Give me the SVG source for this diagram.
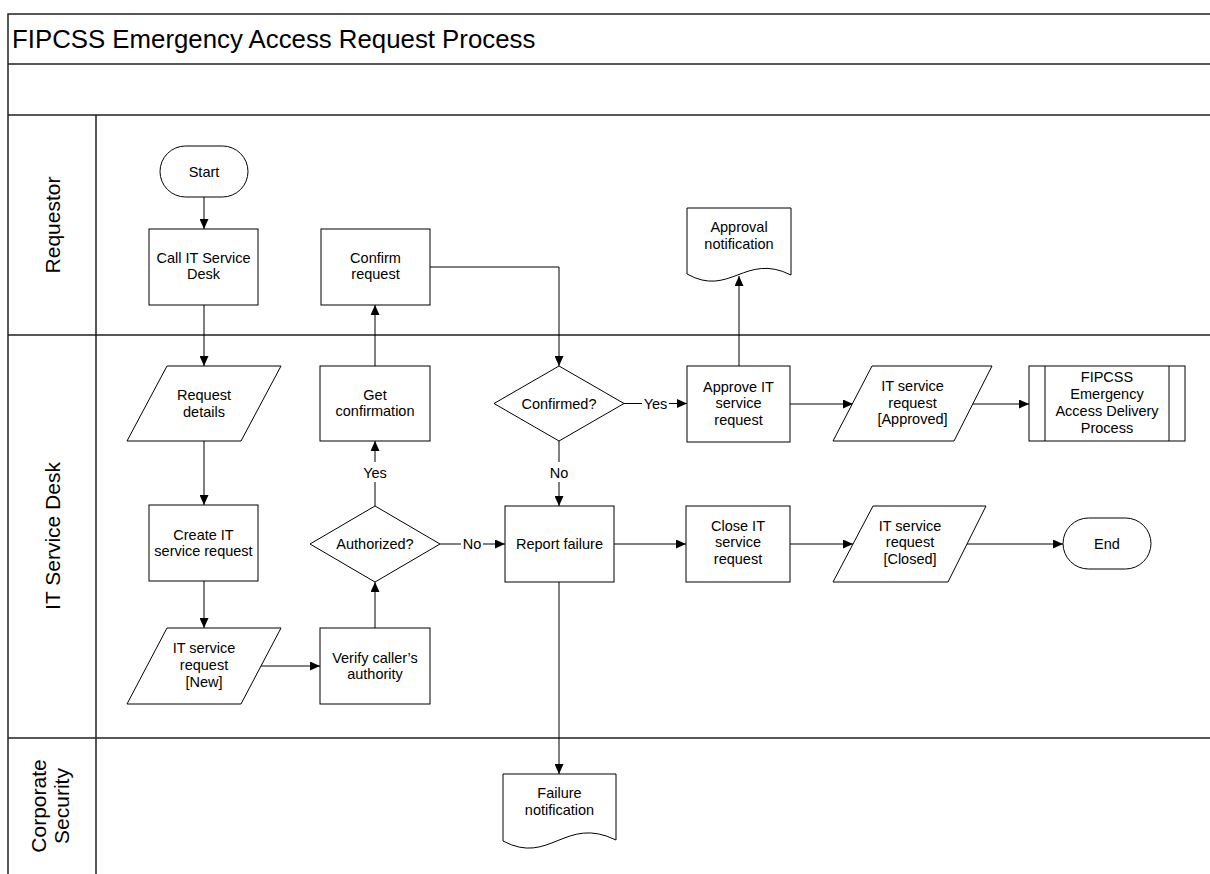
<svg xmlns="http://www.w3.org/2000/svg" width="1210" height="874" viewBox="0 0 1210 874">
  <style>
    .lane { fill: none; stroke: #222; stroke-width: 1.5; }
    .shape { fill: #fff; stroke: #000; stroke-width: 1; }
    .conn { fill: none; stroke: #000; stroke-width: 1; }
    .t { font-family: "Liberation Sans", Arial, sans-serif; font-size: 14.5px; fill: #000; text-anchor: middle; }
    .lab { font-family: "Liberation Sans", Arial, sans-serif; font-size: 21px; fill: #000; text-anchor: middle; }
    .title { font-family: "Liberation Sans", Arial, sans-serif; font-size: 25.8px; fill: #000; }
    .bg { fill: #fff; stroke: none; }
  </style>
  <defs>
    <marker id="arrow" viewBox="0 0 10 9" markerWidth="10" markerHeight="9" refX="10" refY="4.5" orient="auto" markerUnits="userSpaceOnUse">
      <path d="M0,0 L10,4.5 L0,9 z" fill="#000"/>
    </marker>
  </defs>

  <rect width="1210" height="874" fill="#fff"/>

  <!-- swimlane frame -->
  <g id="frame">
    <path class="lane" d="M8,874 V14 H1210 M8,64 H1210 M8,115 H1210 M8,335 H1210 M8,738 H1210 M96,115 V874"/>
    <text class="title" x="12" y="48">FIPCSS Emergency Access Request Process</text>
    <text class="lab" transform="translate(60,225) rotate(-90)">Requestor</text>
    <text class="lab" transform="translate(60,536) rotate(-90)">IT Service Desk</text>
    <text class="lab" transform="translate(46,806) rotate(-90)">Corporate</text>
    <text class="lab" transform="translate(69,806) rotate(-90)">Security</text>
  </g>

  <!-- connectors -->
  <g id="connectors">
    <path class="conn" d="M204,197 V229" marker-end="url(#arrow)"/>
    <path class="conn" d="M204,305 V366" marker-end="url(#arrow)"/>
    <path class="conn" d="M204,441 V505" marker-end="url(#arrow)"/>
    <path class="conn" d="M204,581 V628" marker-end="url(#arrow)"/>
    <path class="conn" d="M261,666 H320" marker-end="url(#arrow)"/>
    <path class="conn" d="M375,628 V582" marker-end="url(#arrow)"/>
    <path class="conn" d="M375,506 V441" marker-end="url(#arrow)"/>
    <path class="conn" d="M375,366 V305" marker-end="url(#arrow)"/>
    <path class="conn" d="M430,267 H559 V366" marker-end="url(#arrow)"/>
    <path class="conn" d="M624,403.5 H687" marker-end="url(#arrow)"/>
    <path class="conn" d="M559,441 V506" marker-end="url(#arrow)"/>
    <path class="conn" d="M440,544 H505" marker-end="url(#arrow)"/>
    <path class="conn" d="M739,366 V276" marker-end="url(#arrow)"/>
    <path class="conn" d="M790,404 H853" marker-end="url(#arrow)"/>
    <path class="conn" d="M973,404 H1029" marker-end="url(#arrow)"/>
    <path class="conn" d="M614,544 H686" marker-end="url(#arrow)"/>
    <path class="conn" d="M790,544 H853" marker-end="url(#arrow)"/>
    <path class="conn" d="M967,544 H1063" marker-end="url(#arrow)"/>
    <path class="conn" d="M559,582 V774" marker-end="url(#arrow)"/>

    <!-- branch labels -->
    <rect class="bg" x="362" y="462" width="26" height="20"/>
    <text class="t" x="375" y="478">Yes</text>
    <rect class="bg" x="642" y="394" width="27" height="19"/>
    <text class="t" x="655.5" y="408.5">Yes</text>
    <rect class="bg" x="546" y="462" width="26" height="20"/>
    <text class="t" x="559" y="478">No</text>
    <rect class="bg" x="461" y="535" width="22" height="19"/>
    <text class="t" x="472" y="549">No</text>
  </g>

  <!-- Requestor lane -->
  <g id="start">
    <rect class="shape" x="160" y="146" width="88" height="51" rx="25.5"/>
    <text class="t" x="204" y="176.5">Start</text>
  </g>
  <g id="call-service-desk">
    <rect class="shape" x="149" y="229" width="109" height="76"/>
    <text class="t" x="203.5" y="262.5">Call IT Service</text>
    <text class="t" x="203.5" y="279">Desk</text>
  </g>
  <g id="confirm-request">
    <rect class="shape" x="321" y="229" width="109" height="76"/>
    <text class="t" x="375.5" y="262.5">Confirm</text>
    <text class="t" x="375.5" y="279">request</text>
  </g>
  <g id="approval-notification">
    <path class="shape" d="M687,208 H791 V275 C745,252 730,298 687,274 Z"/>
    <text class="t" x="739" y="232">Approval</text>
    <text class="t" x="739" y="249">notification</text>
  </g>

  <!-- IT Service Desk lane -->
  <g id="request-details">
    <polygon class="shape" points="167,366 281,366 241,441 127,441"/>
    <text class="t" x="204" y="400">Request</text>
    <text class="t" x="204" y="416.5">details</text>
  </g>
  <g id="create-request">
    <rect class="shape" x="149" y="505" width="109" height="76"/>
    <text class="t" x="203.5" y="539.5">Create IT</text>
    <text class="t" x="203.5" y="556">service request</text>
  </g>
  <g id="request-new">
    <polygon class="shape" points="167,628 281,628 241,704 127,704"/>
    <text class="t" x="204" y="653">IT service</text>
    <text class="t" x="204" y="670">request</text>
    <text class="t" x="204" y="686.5">[New]</text>
  </g>
  <g id="verify-authority">
    <rect class="shape" x="320" y="628" width="110" height="76"/>
    <text class="t" x="375" y="662.5">Verify caller’s</text>
    <text class="t" x="375" y="679">authority</text>
  </g>
  <g id="authorized">
    <polygon class="shape" points="310,544 375,506 440,544 375,582"/>
    <text class="t" x="375" y="549">Authorized?</text>
  </g>
  <g id="get-confirmation">
    <rect class="shape" x="320" y="366" width="110" height="75"/>
    <text class="t" x="375" y="399.5">Get</text>
    <text class="t" x="375" y="416">confirmation</text>
  </g>
  <g id="confirmed">
    <polygon class="shape" points="494,403.5 559,366 624,403.5 559,441"/>
    <text class="t" x="559" y="408.5">Confirmed?</text>
  </g>
  <g id="approve-request">
    <rect class="shape" x="687" y="366" width="103" height="76"/>
    <text class="t" x="738.5" y="391.5">Approve IT</text>
    <text class="t" x="738.5" y="408">service</text>
    <text class="t" x="738.5" y="424.5">request</text>
  </g>
  <g id="request-approved">
    <polygon class="shape" points="872,366 992,366 954,441 833,441"/>
    <text class="t" x="912.5" y="391">IT service</text>
    <text class="t" x="912.5" y="407.5">request</text>
    <text class="t" x="912.5" y="424">[Approved]</text>
  </g>
  <g id="delivery-process">
    <rect class="shape" x="1029" y="366" width="156" height="75"/>
    <path class="conn" d="M1045,366 V441 M1169,366 V441"/>
    <text class="t" x="1107" y="382">FIPCSS</text>
    <text class="t" x="1107" y="399">Emergency</text>
    <text class="t" x="1107" y="416">Access Delivery</text>
    <text class="t" x="1107" y="433">Process</text>
  </g>
  <g id="report-failure">
    <rect class="shape" x="505" y="506" width="109" height="76"/>
    <text class="t" x="559.5" y="549">Report failure</text>
  </g>
  <g id="close-request">
    <rect class="shape" x="686" y="506" width="104" height="76"/>
    <text class="t" x="738" y="530.5">Close IT</text>
    <text class="t" x="738" y="547">service</text>
    <text class="t" x="738" y="563.5">request</text>
  </g>
  <g id="request-closed">
    <polygon class="shape" points="873,506 986,506 948,582 833,582"/>
    <text class="t" x="910" y="530.5">IT service</text>
    <text class="t" x="910" y="547">request</text>
    <text class="t" x="910" y="563.5">[Closed]</text>
  </g>
  <g id="end">
    <rect class="shape" x="1063" y="518" width="88" height="51" rx="25.5"/>
    <text class="t" x="1107" y="549">End</text>
  </g>

  <!-- Corporate Security lane -->
  <g id="failure-notification">
    <path class="shape" d="M503,774 H616 V840 C565,815 550,866 503,841 Z"/>
    <text class="t" x="559.5" y="798">Failure</text>
    <text class="t" x="559.5" y="815">notification</text>
  </g>
</svg>
